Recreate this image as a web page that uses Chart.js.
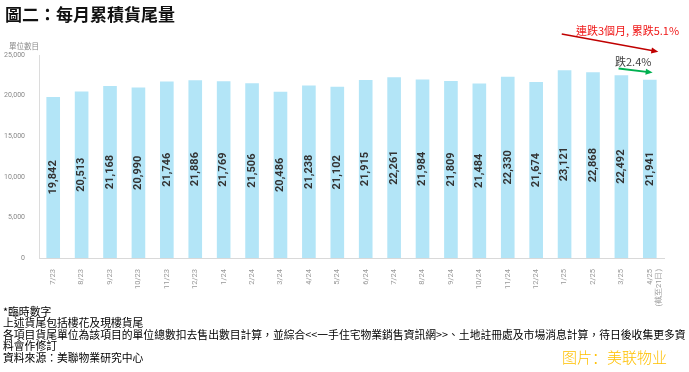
<!DOCTYPE html>
<html>
<head>
<meta charset="utf-8">
<script src="https://cdn.jsdelivr.net/npm/chart.js@4"></script>
<style>
  html, body { margin: 0; padding: 0; background: #fff; }
  #wrap { position: relative; width: 689px; height: 372px; overflow: hidden; font-family: 'Noto Sans CJK TC', sans-serif; }
  #chart { position: absolute; left: 0; top: 0; }
  .txt { position: absolute; white-space: nowrap; }
  #title { left: 5px; top: 1px; font-size: 17px; font-weight: bold; color: #111; }
  #unit { left: 9px; top: 40px; font-size: 7.5px; color: #888; }
  #redNote { left: 576px; top: 22px; font-size: 11px; color: #f01818; }
  #greenNote { left: 615px; top: 53px; font-size: 11px; color: #404040; }
  #notes { left: 3px; top: 306px; font-size: 10.8px; line-height: 11.4px; color: #000; }
  #mark { left: 562px; top: 346px; font-size: 15px; color: #ffc000; font-family: 'Noto Sans CJK SC', sans-serif; font-weight: 300; }
</style>
</head>
<body>
<div id="wrap">
  <canvas id="chart" width="689" height="372"></canvas>
  <div class="txt" id="title">圖二：每月累積貨尾量</div>
  <div class="txt" id="unit">單位數目</div>
  <div class="txt" id="redNote">連跌3個月, 累跌5.1%</div>
  <div class="txt" id="greenNote">跌2.4%</div>
  <div class="txt" id="notes">*臨時數字<br>上述貨尾包括樓花及現樓貨尾<br>各項目貨尾單位為該項目的單位總數扣去售出數目計算，並綜合&lt;&lt;一手住宅物業銷售資訊網&gt;&gt;、土地註冊處及市場消息計算，待日後收集更多資<br>料會作修訂<br>資料來源：美聯物業研究中心</div>
  <div class="txt" id="mark">图片：美联物业</div>
</div>
<script>
const months = ['7/23', '8/23', '9/23', '10/23', '11/23', '12/23', '1/24', '2/24', '3/24', '4/24', '5/24',
  '6/24', '7/24', '8/24', '9/24', '10/24', '11/24', '12/24', '1/25', '2/25', '3/25', ['4/25', '(截至21日)']];
const units = [19842, 20513, 21168, 20990, 21746, 21886, 21769, 21506, 20486, 21238, 21102,
  21915, 22261, 21984, 21809, 21484, 22330, 21674, 23121, 22868, 22492, 21941];
const yTicks = [0, 5000, 10000, 15000, 20000, 25000];

// arrows in data space: [index, value] pairs
const arrows = [
  { from: [17.9, 27600], to: [21.3, 25400], color: '#c00000', width: 1.5 },
  { from: [19.9, 23350], to: [21.1, 22830], color: '#00b050', width: 2 }
];

const barLabels = {
  id: 'barLabels',
  afterDatasetsDraw(chart) {
    const ctx = chart.ctx;
    const meta = chart.getDatasetMeta(0);
    ctx.save();
    ctx.font = 'bold 11px Roboto';
    ctx.fillStyle = '#333';
    ctx.textAlign = 'center';
    ctx.textBaseline = 'middle';
    meta.data.forEach(function (bar, i) {
      ctx.save();
      ctx.translate(bar.x, (bar.y + bar.base) / 2);
      ctx.rotate(-Math.PI / 2);
      ctx.fillText(units[i].toLocaleString('en-US'), 0, 0);
      ctx.restore();
    });
    ctx.restore();
  }
};

const arrowPlugin = {
  id: 'arrowPlugin',
  afterDraw(chart) {
    const ctx = chart.ctx;
    const x = chart.scales.x, y = chart.scales.y;
    arrows.forEach(function (a) {
      const x1 = x.getPixelForValue(a.from[0]), y1 = y.getPixelForValue(a.from[1]);
      const x2 = x.getPixelForValue(a.to[0]), y2 = y.getPixelForValue(a.to[1]);
      const ang = Math.atan2(y2 - y1, x2 - x1);
      ctx.save();
      ctx.strokeStyle = a.color;
      ctx.fillStyle = a.color;
      ctx.lineWidth = a.width;
      ctx.beginPath();
      ctx.moveTo(x1, y1);
      ctx.lineTo(x2 - 4 * Math.cos(ang), y2 - 4 * Math.sin(ang));
      ctx.stroke();
      ctx.beginPath();
      ctx.moveTo(x2, y2);
      ctx.lineTo(x2 - 7 * Math.cos(ang) + 3 * Math.sin(ang), y2 - 7 * Math.sin(ang) - 3 * Math.cos(ang));
      ctx.lineTo(x2 - 7 * Math.cos(ang) - 3 * Math.sin(ang), y2 - 7 * Math.sin(ang) + 3 * Math.cos(ang));
      ctx.closePath();
      ctx.fill();
      ctx.restore();
    });
  }
};

new Chart(document.getElementById('chart').getContext('2d'), {
  type: 'bar',
  data: {
    labels: months,
    datasets: [{
      label: '單位數目',
      data: units,
      backgroundColor: '#b3e5f7',
      borderWidth: 0,
      categoryPercentage: 1,
      barPercentage: 0.48
    }]
  },
  options: {
    responsive: false,
    animation: false,
    layout: { padding: { top: 55, right: 25, bottom: 64, left: 0 } },
    plugins: { legend: { display: false }, tooltip: { enabled: false } },
    scales: {
      x: {
        grid: { display: false },
        border: { display: true, color: '#d9d9d9', width: 1 },
        ticks: {
          autoSkip: false, maxRotation: 90, minRotation: 90, padding: 3,
          color: '#999', font: { family: 'Roboto', size: 7.5 }
        },
        afterFit(scale) { scale.height = 50; }
      },
      y: {
        min: 0,
        max: 25000,
        afterBuildTicks(scale) { scale.ticks = yTicks.map(v => ({ value: v })); },
        grid: { display: false },
        border: { display: true, color: '#dcdcdc', width: 1 },
        ticks: {
          padding: 6, color: '#888', font: { family: 'Roboto', size: 7 },
          callback: v => v.toLocaleString('en-US')
        },
        afterFit(scale) { scale.width = 39; }
      }
    }
  },
  plugins: [barLabels, arrowPlugin]
});
</script>
</body>
</html>
